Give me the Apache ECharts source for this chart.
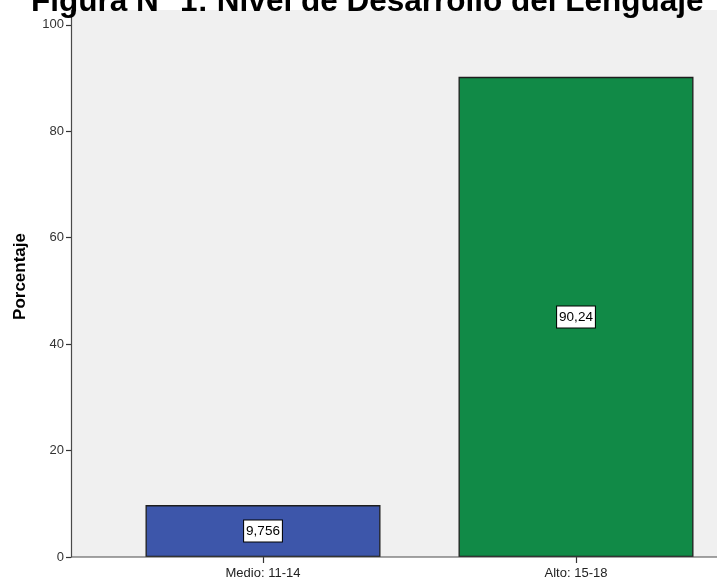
<!DOCTYPE html>
<html>
<head>
<meta charset="utf-8">
<script src="https://cdn.jsdelivr.net/npm/echarts@6/dist/echarts.min.js"></script>
<style>
  html, body { margin: 0; padding: 0; background: #ffffff; }
  #chart { width: 717px; height: 581px; }
</style>
</head>
<body>
<div id="chart"></div>
<script>
// Nivel de desarrollo del lenguaje: porcentaje por categoría
const categories = ['Medio: 11-14', 'Alto: 15-18'];
const percentages = [9.756, 90.24];
const valueLabels = ['9,756', '90,24'];
const barColors = ['#3D56AA', '#118A47'];
const yTicks = [0, 20, 40, 60, 80, 100];

const chart = echarts.init(document.getElementById('chart'));
const fontFamily = 'Arial, "Liberation Sans", sans-serif';

// frame of the plot area (background spans from the y axis to the right edge)
const gridTop = 10, gridBottom = 24, axisX = 71;
const gridLeft = 106.5, gridWidth = 626;

chart.setOption({
  animation: false,
  backgroundColor: '#ffffff',
  title: {
    text: 'Figura N° 1: Nivel de Desarrollo del Lenguaje',
    left: 31,
    top: -14,
    padding: 0,
    textStyle: { fontFamily, fontSize: 31.5, fontWeight: 'bold', color: '#000' }
  },
  graphic: [
    {
      type: 'rect', z: -10, silent: true,
      shape: { x: axisX, y: gridTop, width: 717 - axisX, height: 581 - gridBottom - gridTop },
      style: { fill: '#F0F0F0' }
    },
    {
      type: 'line', z: 10, silent: true,
      shape: { x1: axisX, y1: 581 - gridBottom, x2: 717, y2: 581 - gridBottom },
      style: { stroke: '#4a4a4a', lineWidth: 1.2 }
    }
  ],
  grid: {
    left: gridLeft, width: gridWidth, top: gridTop, bottom: gridBottom,
    containLabel: false, outerBoundsMode: 'none'
  },
  xAxis: {
    type: 'category',
    data: categories,
    axisLine: { show: false },
    axisTick: { show: true, alignWithLabel: true, length: 6, lineStyle: { color: '#333', width: 1.2 } },
    axisLabel: { fontFamily, fontSize: 13, color: '#222', margin: 10 }
  },
  yAxis: {
    type: 'value',
    min: 0,
    max: 102.8,
    interval: 20,
    offset: gridLeft - axisX,
    name: 'Porcentaje',
    nameLocation: 'middle',
    nameGap: 42,
    nameRotate: 90,
    nameTextStyle: { fontFamily, fontSize: 17, fontWeight: 'bold', color: '#000', padding: [0, 0, 0, 14] },
    splitLine: { show: false },
    axisLine: { show: true, lineStyle: { color: '#4a4a4a', width: 1.2 } },
    axisTick: { show: true, length: 5, customValues: yTicks, lineStyle: { color: '#333', width: 1.2 } },
    axisLabel: { fontFamily, fontSize: 13, color: '#333', margin: 7, customValues: yTicks }
  },
  series: [{
    type: 'bar',
    barWidth: 235,
    data: percentages.map((v, i) => ({
      value: v,
      itemStyle: { color: barColors[i] }
    })),
    itemStyle: { borderColor: '#1e1e1e', borderWidth: 1.3 },
    label: {
      show: true,
      position: 'inside',
      formatter: p => valueLabels[p.dataIndex],
      fontFamily,
      fontSize: 13.5,
      color: '#000',
      backgroundColor: '#ffffff',
      borderColor: '#000',
      borderWidth: 1,
      padding: [4, 2, 3, 2]
    }
  }]
});
</script>
</body>
</html>
